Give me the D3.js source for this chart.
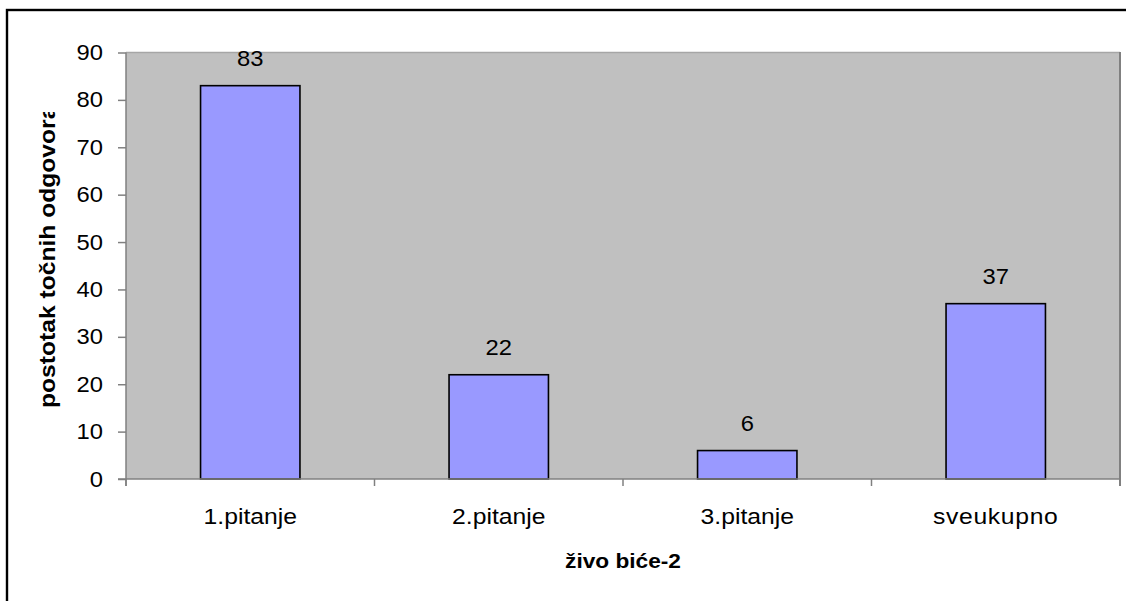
<!DOCTYPE html>
<html>
<head>
<meta charset="utf-8">
<script src="https://cdn.jsdelivr.net/npm/d3@7"></script>
<style>
  html, body { margin: 0; padding: 0; background: #fff; }
  svg { display: block; }
  text { font-family: "Liberation Sans", Arial, sans-serif; fill: #000; }
</style>
</head>
<body>
<svg id="chart" width="1126" height="601"></svg>
<script>
const categories = ["1.pitanje", "2.pitanje", "3.pitanje", "sveukupno"];
const values = [83, 22, 6, 37];
const yTicks = [0, 10, 20, 30, 40, 50, 60, 70, 80, 90];
const yTitle = "postotak točnih odgovora";
const xTitle = "živo biće-2";

const svg = d3.select("#chart");
const plot = { left: 126, right: 1120, top: 52.5, bottom: 479 };
const SX = 1.08;
const FS = 22;

// outer frame (extends past the image on right/bottom)
svg.append("rect").attr("x", 7).attr("y", 10).attr("width", 1300).attr("height", 800)
  .attr("fill", "none").attr("stroke", "#000").attr("stroke-width", 2.4);

const x = d3.scaleBand().domain(categories).range([plot.left, plot.right])
  .paddingInner(0.6).paddingOuter(0.3);
const y = d3.scaleLinear().domain([0, 90]).range([plot.bottom, plot.top]);

// plot background
svg.append("rect").attr("x", plot.left).attr("y", plot.top)
  .attr("width", plot.right - plot.left).attr("height", plot.bottom - plot.top)
  .attr("fill", "#C0C0C0");
svg.append("line").attr("x1", plot.left).attr("x2", plot.right).attr("y1", plot.top).attr("y2", plot.top)
  .attr("stroke", "#a6a6a6").attr("stroke-width", 1.5);
svg.append("line").attr("x1", plot.right).attr("x2", plot.right).attr("y1", plot.top - 0.5).attr("y2", plot.bottom + 7)
  .attr("stroke", "#808080").attr("stroke-width", 2);

// bars
svg.selectAll("rect.bar").data(values).enter().append("rect")
  .attr("class", "bar")
  .attr("x", (d, i) => x(categories[i]))
  .attr("width", x.bandwidth())
  .attr("y", d => y(d))
  .attr("height", d => y(0) - y(d))
  .attr("fill", "#9999FF").attr("stroke", "#000").attr("stroke-width", 1.6);

// value labels
svg.selectAll("text.val").data(values).enter().append("text")
  .attr("class", "val")
  .attr("transform", (d, i) => `translate(${x(categories[i]) + x.bandwidth() / 2},${y(d) - 20}) scale(${SX},1)`)
  .attr("text-anchor", "middle").attr("font-size", FS)
  .text(d => d);

// y axis
const yAxis = svg.append("g").attr("transform", `translate(${plot.left},0)`)
  .call(d3.axisLeft(y).tickValues(yTicks).tickSize(8).tickPadding(15));
yAxis.select(".domain").attr("stroke", "#808080").attr("stroke-width", 1.5)
  .attr("d", `M0,${plot.top}V${plot.bottom + 7}`);
yAxis.selectAll(".tick line").attr("stroke", "#808080").attr("stroke-width", 1.5);
yAxis.selectAll(".tick text").attr("font-size", FS).attr("fill", "#000")
  .attr("font-family", "Liberation Sans, Arial, sans-serif")
  .attr("transform", `scale(${SX},1)`)
  .attr("x", -23 / SX);

// x axis
svg.append("line").attr("x1", plot.left - 8).attr("x2", plot.right).attr("y1", plot.bottom).attr("y2", plot.bottom)
  .attr("stroke", "#808080").attr("stroke-width", 1.5);
const step = x.step();
const bounds = categories.map(c => x(c) + x.bandwidth() / 2 - step / 2).concat([plot.right]);
svg.selectAll("line.xtick").data(bounds).enter().append("line")
  .attr("class", "xtick")
  .attr("x1", d => d).attr("x2", d => d).attr("y1", plot.bottom).attr("y2", plot.bottom + 7)
  .attr("stroke", "#808080").attr("stroke-width", 1.5);

svg.selectAll("text.cat").data(categories).enter().append("text")
  .attr("class", "cat")
  .attr("transform", d => `translate(${x(d) + x.bandwidth() / 2},524) scale(${SX * 1.04},1)`)
  .attr("text-anchor", "middle").attr("font-size", FS)
  .attr("letter-spacing", d => d === "sveukupno" ? 0.6 : 0)
  .text(d => d);

// axis titles
svg.append("text")
  .attr("transform", `translate(${(plot.left + plot.right) / 2},568) scale(${SX},1)`)
  .attr("text-anchor", "middle").attr("font-size", FS - 1).attr("font-weight", "bold")
  .text(xTitle);

svg.append("clipPath").attr("id", "ytclip").append("rect")
  .attr("x", 0).attr("y", 112).attr("width", 120).attr("height", 400);
svg.append("g").attr("clip-path", "url(#ytclip)")
  .append("text")
  .attr("transform", `translate(55,408) rotate(-90) scale(1.12,1)`)
  .attr("text-anchor", "start").attr("font-size", FS).attr("font-weight", "bold")
  .text(yTitle);
</script>
</body>
</html>
